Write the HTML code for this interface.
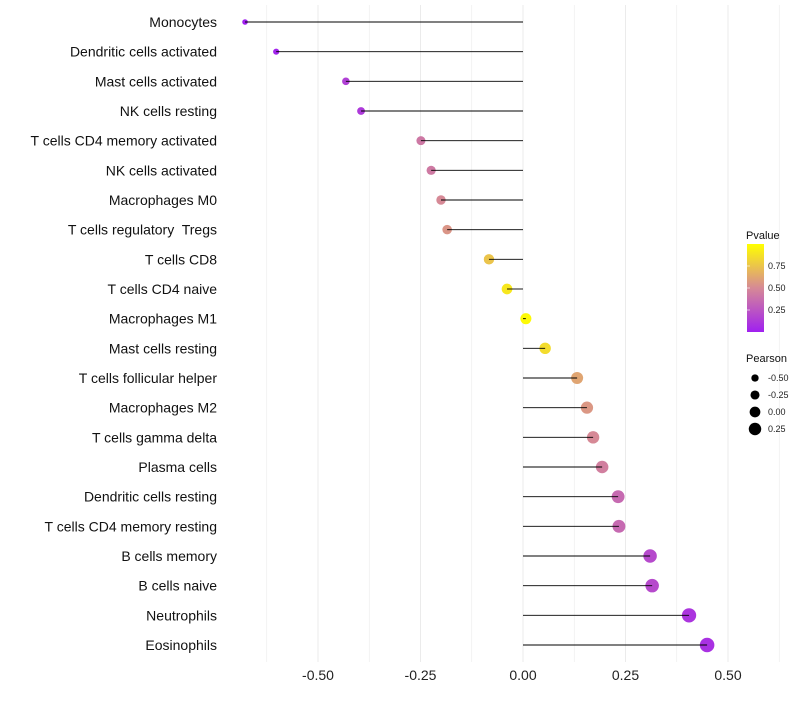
<!DOCTYPE html>
<html><head><meta charset="utf-8"><style>
body{margin:0;background:#fff;font-family:"Liberation Sans",sans-serif}
text{white-space:pre}
</style></head><body>
<svg id="chart" width="800" height="700" xmlns="http://www.w3.org/2000/svg" font-family="Liberation Sans, sans-serif">
<g id="grid"></g>
<g id="marks"></g>
<g id="stems"></g>
<g id="labels"></g>
<g id="xticks"></g>
<g id="legend"></g>
</svg>
<script>
const categories=["Monocytes","Dendritic cells activated","Mast cells activated","NK cells resting","T cells CD4 memory activated","NK cells activated","Macrophages M0","T cells regulatory  Tregs","T cells CD8","T cells CD4 naive","Macrophages M1","Mast cells resting","T cells follicular helper","Macrophages M2","T cells gamma delta","Plasma cells","Dendritic cells resting","T cells CD4 memory resting","B cells memory","B cells naive","Neutrophils","Eosinophils"];
const pearson=[-0.678,-0.602,-0.432,-0.395,-0.249,-0.224,-0.2,-0.185,-0.083,-0.039,0.007,0.054,0.132,0.156,0.171,0.193,0.232,0.234,0.31,0.315,0.405,0.449];
const pvalue=[0.0,0.02,0.15,0.12,0.42,0.43,0.5,0.55,0.75,0.9,0.98,0.85,0.62,0.56,0.5,0.45,0.35,0.35,0.2,0.2,0.1,0.08];
const xTicks=[-0.5,-0.25,0,0.25,0.5];
const xTickLabels=["-0.50","-0.25","0.00","0.25","0.50"];
const pTicks=[0.25,0.5,0.75];
const pTickLabels=["0.25","0.50","0.75"];
const sizeBreaks=[-0.5,-0.25,0,0.25];
const sizeLabels=["-0.50","-0.25","0.00","0.25"];

const NS="http://www.w3.org/2000/svg";
const X=v=>523+v*410;
const Y=i=>22+i*(623/21);
const R=v=>Math.max(1.2,5.5+v*4);
const P=p=>332-p*88;
function col(p){const a=[160,32,240],b=[214,137,150],c=[255,255,0];let s,e,t;
 if(p<0.5){s=a;e=b;t=p/0.5}else{s=b;e=c;t=(p-0.5)/0.5}
 return `rgb(${s.map((v,k)=>Math.round(v+(e[k]-v)*t)).join(",")})`;}
function mk(tag,attrs,parent){const el=document.createElementNS(NS,tag);for(const k in attrs)el.setAttribute(k,attrs[k]);parent.appendChild(el);return el;}
const grid=document.getElementById("grid"),marks=document.getElementById("marks"),stems=document.getElementById("stems"),labels=document.getElementById("labels"),xt=document.getElementById("xticks"),lg=document.getElementById("legend");
for(let v=-0.625;v<=0.63;v+=0.125){const l=mk("line",{x1:X(v),x2:X(v),y1:5,y2:662,stroke:"#ebebeb","stroke-width":Math.abs((v*4)%1)<0.01?1:0.6},grid);

}
xTicks.forEach((v,i)=>{const t=mk("text",{x:X(v),y:680,"text-anchor":"middle","font-size":14,fill:"#222"},xt);t.textContent=xTickLabels[i];

});
categories.forEach((c,i)=>{const y=Y(i);
 const ci=mk("circle",{cx:X(pearson[i]),cy:y,r:R(pearson[i]),fill:col(pvalue[i])},marks);
 
 
 const ln=mk("line",{x1:X(0),x2:X(pearson[i]),y1:y,y2:y,stroke:"#000","stroke-width":0.9},stems);
 
 
 const t=mk("text",{x:217,y:y+5,"text-anchor":"end","font-size":14,fill:"#111"},labels);t.textContent=c;
 
 });
const defs=mk("defs",{},lg);const gr=mk("linearGradient",{id:"pg",x1:0,y1:1,x2:0,y2:0},defs);
[0,0.25,0.5,0.75,1].forEach(o=>mk("stop",{offset:o,"stop-color":col(o)},gr));
const tt=mk("text",{x:746,y:239,"font-size":11,fill:"#111"},lg);tt.textContent="Pvalue";


const bar=mk("rect",{x:747,y:P(1),width:17,height:88,fill:"url(#pg)"},lg);


pTicks.forEach((p,i)=>{const t=mk("text",{x:768,y:P(p)+3,"font-size":9,fill:"#222"},lg);t.textContent=pTickLabels[i];


const tl=mk("line",{x1:747,x2:750,y1:P(p),y2:P(p),stroke:"#fff","stroke-width":0.6},lg);

});
const st=mk("text",{x:746,y:362,"font-size":11,fill:"#111"},lg);st.textContent="Pearson";


sizeBreaks.forEach((v,i)=>{const y=378+i*17;const c=mk("circle",{cx:755,cy:y,r:R(v)*0.85+0.7,fill:"#000"},lg);


const t=mk("text",{x:768,y:y+3,"font-size":9,fill:"#222"},lg);t.textContent=sizeLabels[i];

});
</script>
</body></html>
